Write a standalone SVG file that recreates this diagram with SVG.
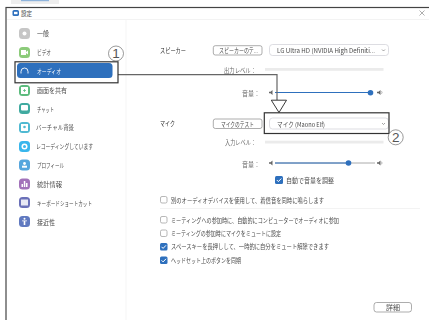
<svg xmlns="http://www.w3.org/2000/svg" width="429" height="320" viewBox="0 0 429 320">
<defs>
<filter id="soft" x="-5%" y="-5%" width="110%" height="110%"><feGaussianBlur stdDeviation="0.25"/></filter>
<path id="chk" d="M-2.2 0L-.6 1.6L2.3-1.5" fill="none" stroke="#fff" stroke-width="1"/>
</defs>
<style>
text{font-family:"Noto Sans CJK JP","Noto Sans",sans-serif;font-size:6.3px;fill:#4a4a4a;dominant-baseline:central}
.g{fill:#6a6a6a}.w{fill:#fff}.d{fill:#2e2e2e}
.ic{stroke:none}.gl{fill:#fff;stroke:none}
.btn{fill:#fff;stroke:#8a8a8a;stroke-width:.7}.dd{fill:#fff;stroke:#cfcfd6;stroke-width:.7}
.bar{fill:#ebebeb}.cb{fill:#fff;stroke:#9a9a9a;stroke-width:.7}.cbo{fill:#2d6fbd}
.hl{fill:none;stroke:#333;stroke-width:1.2}.num{fill:#fff;stroke:#555;stroke-width:.6}
.n{font-family:"Liberation Sans",sans-serif;font-size:13.5px;fill:#555;text-anchor:middle}
.sl{stroke-width:1;fill:none}.v{fill:#666;stroke:none}
.ch{fill:none;stroke:#666;stroke-width:.6}
</style>
<rect x="11" y="0" width="48" height="4" fill="#eeeeee"/>
<rect x="21" y="0" width="28" height="1.2" fill="#8fb4dc"/>
<g id="window">
<rect x="6" y="7.500" width="430" height="320" fill="#fff" stroke="#444" stroke-width="1.200"/>
<line x1="7" y1="19.500" x2="429" y2="19.500" stroke="#eeeeee" stroke-width=".7"/>
<line x1="126" y1="20" x2="126" y2="320" stroke="#f0f0f0" stroke-width=".7"/>
<rect x="12.500" y="10" width="6.500" height="6" rx="1.600" fill="#2d6fbd"/><rect x="14" y="11.800" width="3.500" height="2.400" fill="#fff"/>
<text x="21" y="13.300" textLength="11" lengthAdjust="spacingAndGlyphs">設定</text>
<path d="M419.500 10.500L424.500 15.500M424.500 10.500L419.500 15.500" stroke="#777" stroke-width=".6"/>
</g>
<g filter="url(#soft)">
<g id="nav-general"><rect class="ic" x="19" y="28" width="11" height="11" rx="3.500" fill="#c6c6c6"/><circle cx="24.500" cy="33.500" r="2" class="gl"/><text x="37" y="33.500" textLength="12" lengthAdjust="spacingAndGlyphs">一般</text></g>
<g id="nav-video"><rect class="ic" x="19" y="47" width="11" height="11" rx="3.500" fill="#8ccb7a"/><rect x="21" y="50" width="5" height="5" class="gl"/><path d="M26 52L28 50.500V54.500L26 53Z" class="gl"/><text x="37" y="52.500" textLength="14" lengthAdjust="spacingAndGlyphs">ビデオ</text></g>
<g id="nav-audio"><rect x="17" y="63" width="95.500" height="15" rx="3.500" fill="#2d6fbd"/><path d="M21 73.500V71.500A3.500 3.500 0 0 1 28 71.500V73.500" fill="none" stroke="#fff" stroke-width=".9"/><text class="w" x="37" y="71" textLength="24" lengthAdjust="spacingAndGlyphs">オーディオ</text></g>
<g id="nav-share"><rect class="ic" x="19" y="85" width="11" height="11" rx="3.500" fill="#5cbb7d"/><rect x="21" y="87" width="7" height="7" class="gl"/><path d="M23 90.500H26M24.500 89V92" stroke="#5cbb7d" stroke-width=".8"/><text x="37" y="90.500" textLength="30" lengthAdjust="spacingAndGlyphs">画面を共有</text></g>
<g id="nav-chat"><rect class="ic" x="19" y="103" width="11" height="11" rx="3.500" fill="#3faaa0"/><rect x="21" y="105" width="7" height="5.500" rx="1" class="gl"/><text x="37" y="109" textLength="17" lengthAdjust="spacingAndGlyphs">チャット</text></g>
<g id="nav-background"><rect class="ic" x="19" y="122" width="11" height="11" rx="3.500" fill="#4fb9d2"/><rect x="21" y="124" width="7" height="7" class="gl"/><circle cx="24.500" cy="127" r="1.300" fill="#4fb9d2"/><text x="36" y="127.500" textLength="38" lengthAdjust="spacingAndGlyphs">バーチャル背景</text></g>
<g id="nav-recording"><rect class="ic" x="19" y="141" width="11" height="11" rx="3.500" fill="#39b6ec"/><circle cx="24.500" cy="146.500" r="3" class="gl"/><circle cx="24.500" cy="146.500" r="1.500" fill="#39b6ec"/><text x="36" y="146.500" textLength="57" lengthAdjust="spacingAndGlyphs">レコーディングしています</text></g>
<g id="nav-profile"><rect class="ic" x="19" y="159.500" width="11" height="11" rx="3.500" fill="#56a6dd"/><circle cx="24.500" cy="163.500" r="1.400" class="gl"/><rect x="22" y="165.700" width="5" height="2" class="gl"/><text x="37" y="165.500" textLength="27" lengthAdjust="spacingAndGlyphs">プロフィール</text></g>
<g id="nav-stats"><rect class="ic" x="19" y="178.500" width="11" height="11" rx="3.500" fill="#a272ba"/><path d="M21.500 187V184H23V187ZM23.800 187V181H25.300V187ZM26 187V183H27.500V187Z" class="gl"/><text x="37" y="184.500" textLength="25" lengthAdjust="spacingAndGlyphs">統計情報</text></g>
<g id="nav-keyboard"><rect class="ic" x="19" y="197" width="11" height="11" rx="3.500" fill="#6b70b8"/><rect x="21" y="199.500" width="7" height="6" fill="#e8e8f4"/><text x="37" y="203" textLength="55" lengthAdjust="spacingAndGlyphs">キーボードショートカット</text></g>
<g id="nav-accessibility"><rect class="ic" x="19" y="216" width="11" height="11" rx="3.500" fill="#6079c0"/><circle cx="24.500" cy="218.800" r="1" class="gl"/><path d="M22 220.500H27V221.300H25.300V225H23.700V221.300H22Z" class="gl"/><text x="37" y="222" textLength="18" lengthAdjust="spacingAndGlyphs">接近性</text></g>

<g id="speaker"><text class="d" x="160" y="50.500" textLength="26" lengthAdjust="spacingAndGlyphs">スピーカー</text>
<rect class="btn" x="213.300" y="45.700" width="48.700" height="9.300" rx="2"/><text x="219" y="50.500" textLength="39" lengthAdjust="spacingAndGlyphs">スピーカーのテ...</text>
<rect class="dd" x="269.500" y="44.500" width="119" height="11" rx="3"/><text x="277" y="50.500" textLength="98" lengthAdjust="spacingAndGlyphs">LG Ultra HD (NVIDIA High Definiti...</text><path class="ch" d="M382 49.500L383.500 51L385 49.500"/></g>
<g id="output-level"><text class="g" x="224" y="70" textLength="32" lengthAdjust="spacingAndGlyphs">出力レベル：</text><rect class="bar" x="265" y="68" width="118.500" height="2.800"/></g>
<g id="speaker-volume"><text class="g" x="242" y="93" textLength="18" lengthAdjust="spacingAndGlyphs">音量：</text>
<path class="v" d="M269 91.700H270.500L272.500 90V95L270.500 93.300H269Z"/><line class="sl" x1="275" y1="92.500" x2="371" y2="92.500" stroke="#2d6fbd"/><circle cx="370.500" cy="92.700" r="2.800" fill="#2d6fbd"/><path class="v" d="M377 91.700H378.500L380.500 90V95L378.500 93.300H377Z"/><path d="M381.500 91.200Q382.500 92.500 381.500 93.800" fill="none" stroke="#666" stroke-width=".5"/></g>
<g id="mic"><text class="d" x="160" y="123.500" textLength="15" lengthAdjust="spacingAndGlyphs">マイク</text>
<rect class="btn" x="213.300" y="119" width="48.700" height="9.500" rx="2"/><text x="221" y="124" textLength="33" lengthAdjust="spacingAndGlyphs">マイクのテスト</text>
<rect class="dd" x="269.500" y="118" width="119" height="11" rx="3"/><text x="277" y="124" textLength="48" lengthAdjust="spacingAndGlyphs">マイク (Maono Elf)</text><path class="ch" d="M382 123L383.500 124.500L385 123"/></g>
<g id="input-level"><text class="g" x="225" y="142.500" textLength="31" lengthAdjust="spacingAndGlyphs">入力レベル：</text><rect class="bar" x="265" y="140.700" width="118.500" height="2.800"/></g>
<g id="mic-volume"><text class="g" x="242" y="164" textLength="18" lengthAdjust="spacingAndGlyphs">音量：</text>
<path class="v" d="M269 162.200H270.500L272.500 160.500V165.500L270.500 163.800H269Z"/><line class="sl" x1="275" y1="163" x2="375" y2="163" stroke="#aaaaaa"/><line class="sl" x1="275" y1="163" x2="348" y2="163" stroke="#2d6fbd"/><circle cx="348.500" cy="163" r="2.800" fill="#2d6fbd"/><path class="v" d="M377 162.200H378.500L380.500 160.500V165.500L378.500 163.800H377Z"/><path d="M381.500 161.700Q382.500 163 381.500 164.300" fill="none" stroke="#666" stroke-width=".5"/></g>
<g id="auto-adjust"><rect class="cbo" x="275" y="176" width="8" height="8" rx="1.500"/><use href="#chk" x="279" y="180"/><text x="286" y="180" textLength="48" lengthAdjust="spacingAndGlyphs">自動で音量を調整</text></g>
<g id="opt-ringtone"><rect class="cb" x="160.500" y="196.500" width="6.500" height="6.500" rx="1.500"/><text x="171" y="200" textLength="153" lengthAdjust="spacingAndGlyphs">別のオーディオデバイスを使用して、着信音を同時に鳴らします</text></g>
<line x1="160" y1="208.500" x2="420" y2="208.500" stroke="#eeeeee" stroke-width=".7"/>
<g id="opt-join"><rect class="cb" x="160.500" y="216.500" width="6.500" height="6.500" rx="1.500"/><text x="171" y="220" textLength="168" lengthAdjust="spacingAndGlyphs">ミーティングへの参加時に、自動的にコンピューターでオーディオに参加</text></g>
<g id="opt-mute"><rect class="cb" x="160.500" y="230" width="6.500" height="6.500" rx="1.500"/><text x="171" y="233.500" textLength="110" lengthAdjust="spacingAndGlyphs">ミーティングの参加時にマイクをミュートに設定</text></g>
<g id="opt-space"><rect class="cbo" x="160" y="243" width="7.500" height="7.500" rx="1.500"/><use href="#chk" x="163.700" y="246.800"/><text x="171" y="246.800" textLength="158" lengthAdjust="spacingAndGlyphs">スペースキーを長押しして、一時的に自分をミュート解除できます</text></g>
<g id="opt-headset"><rect class="cbo" x="160" y="256.500" width="7.500" height="7.500" rx="1.500"/><use href="#chk" x="163.700" y="260.300"/><text x="171" y="260.300" textLength="70" lengthAdjust="spacingAndGlyphs">ヘッドセット上のボタンを同期</text></g>
<g id="detail"><rect class="btn" x="374" y="302.500" width="37.500" height="9.500" rx="2.500"/><text x="386" y="307.500" textLength="14" lengthAdjust="spacingAndGlyphs">詳細</text></g>
</g>
<g id="connectors">
<path d="M118 74.700H277V100" fill="none" stroke="#666" stroke-width="1.200"/>
<path d="M271.300 100.200H286.500L279 112.500Z" fill="#fff" stroke="#222" stroke-width=".9"/>
</g>
<g id="callout-1"><rect class="hl" x="15" y="61.800" width="103" height="21"/><circle class="num" cx="116" cy="53.500" r="7.500"/><text class="n" x="116" y="53.800">1</text></g>
<g id="callout-2"><rect class="hl" x="264.300" y="112.800" width="124.700" height="20.700"/><circle class="num" cx="395.700" cy="137.300" r="7.500"/><text class="n" x="395.700" y="137.600">2</text></g>
</svg>
